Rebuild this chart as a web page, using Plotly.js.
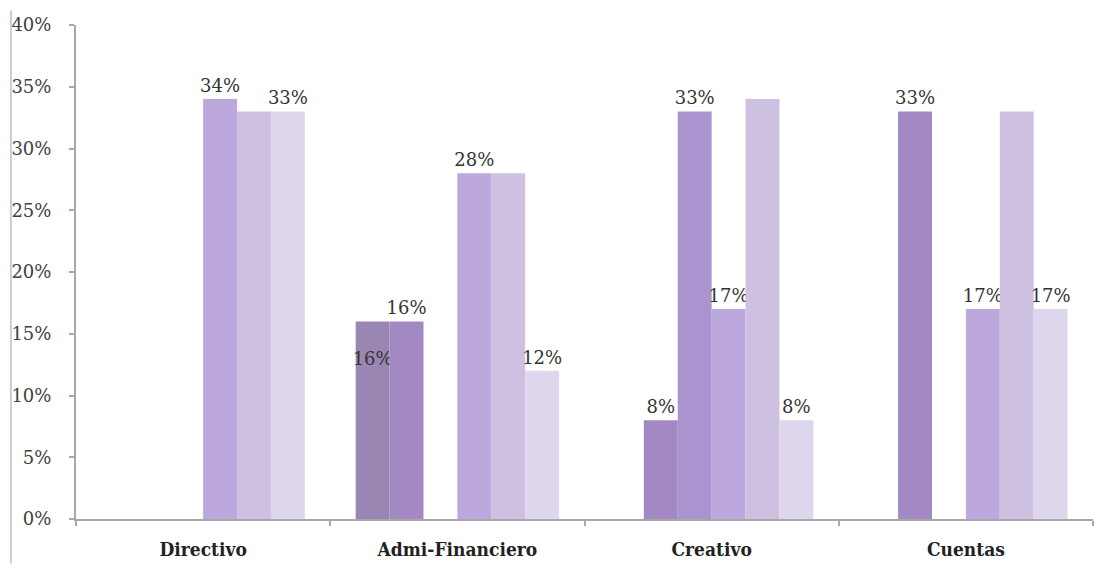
<!DOCTYPE html>
<html>
<head>
<meta charset="utf-8">
<script src="https://cdn.plot.ly/plotly-3.0.1.min.js"></script>
<style>html,body{margin:0;padding:0;background:#fff;}#chart{width:1109px;height:570px;}</style>
</head>
<body>
<div id="chart"></div>
<script>
const categories = ["Directivo", "Admi-Financiero", "Creativo", "Cuentas"];
const serie1 = [0, 16, 0, 0];
const serie2 = [0, 16, 8, 33];
const serie3 = [0, 0, 33, 0];
const serie4 = [34, 28, 17, 17];
const serie5 = [33, 28, 34, 33];
const serie6 = [33, 12, 8, 17];
// which bars carry a visible value label (as in the reference)
const labels1 = [false, true, false, false];
const labels2 = [false, true, true, true];
const labels3 = [false, false, true, false];
const labels4 = [true, true, true, true];
const labels5 = [false, false, false, false];
const labels6 = [true, true, true, true];
const tickVals = [0, 5, 10, 15, 20, 25, 30, 35, 40];

const series = [serie1, serie2, serie3, serie4, serie5, serie6];
const labelFlags = [labels1, labels2, labels3, labels4, labels5, labels6];
const colors = ["#9a86b2", "#a389c3", "#ab93cf", "#bca8dc", "#cdc0e1", "#ded6ec"];
const positions = ["inside", "outside", "outside", "outside", "outside", "outside"];

const traces = series.map((vals, i) => ({
  type: "bar",
  x: categories,
  y: vals,
  text: vals.map((v, j) => labelFlags[i][j] ? (i === 0 ? "&nbsp;<br>" + v + "%" : v + "%") : ""),
  textposition: positions[i],
  insidetextanchor: "end",
  textangle: 0,
  constraintext: "none",
  cliponaxis: false,
  textfont: {family: "DejaVu Serif", size: 18, color: "#333333"},
  insidetextfont: {family: "DejaVu Serif", size: 18, color: "#333333"},
  outsidetextfont: {family: "DejaVu Serif", size: 18, color: "#333333"},
  marker: {color: colors[i], line: {width: 0}},
  hoverinfo: "skip",
  showlegend: false
}));

const layout = {
  width: 1109, height: 570,
  margin: {l: 76, r: 16, t: 25, b: 51},
  paper_bgcolor: "#ffffff",
  plot_bgcolor: "#ffffff",
  barmode: "group",
  bargap: 0.2,
  bargroupgap: 0,
  showlegend: false,
  font: {family: "DejaVu Serif", color: "#333333"},
  xaxis: {
    type: "category",
    showline: true, linecolor: "#a8a8a8", linewidth: 2,
    ticks: "outside", tickson: "boundaries", ticklen: 5, tickcolor: "#a8a8a8", tickwidth: 2,
    ticklabelstandoff: 12,
    showgrid: false,
    tickfont: {family: "DejaVu Serif Condensed", size: 19, color: "#222222", weight: "bold"}
  },
  yaxis: {
    range: [0, 40],
    tickvals: tickVals,
    ticktext: tickVals.map(v => v + "%"),
    showline: true, linecolor: "#a8a8a8", linewidth: 2,
    ticks: "outside", ticklen: 5, tickcolor: "#a8a8a8", tickwidth: 2,
    ticklabelstandoff: 14,
    showgrid: false, zeroline: false,
    tickfont: {family: "DejaVu Serif", size: 18, color: "#404040"}
  },
  shapes: [{
    type: "line", xref: "paper", yref: "paper",
    x0: -0.064, x1: -0.064, y0: 1.03, y1: -0.09,
    line: {color: "#c9cdd6", width: 2}
  }]
};

Plotly.newPlot("chart", traces, layout, {staticPlot: true, displayModeBar: false});
</script>
</body>
</html>
